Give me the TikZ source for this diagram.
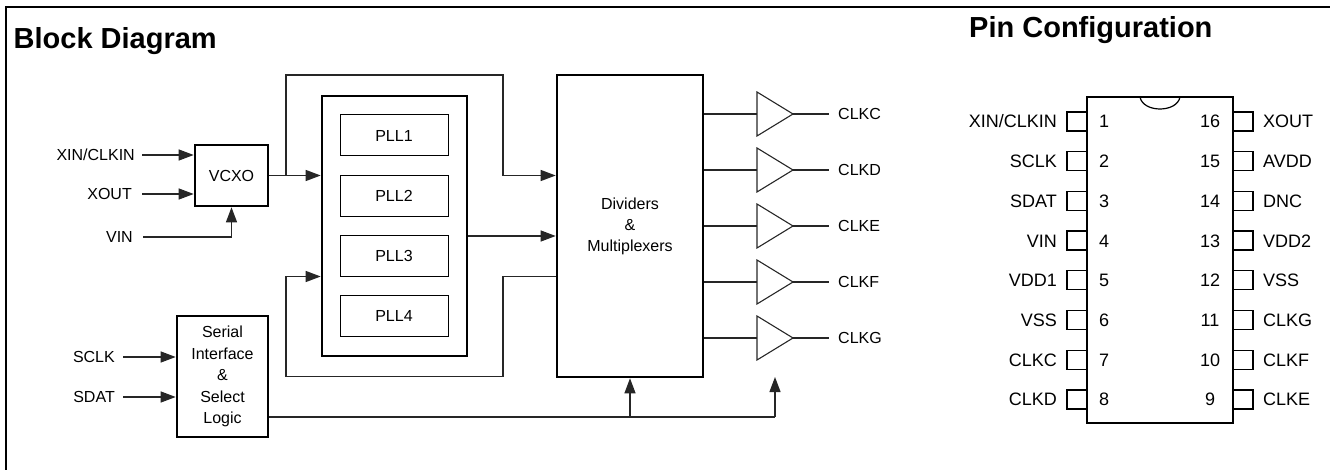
\documentclass[tikz,border=0pt]{standalone}
\usepackage{fontspec}
\setmainfont{Liberation Sans}
\usetikzlibrary{arrows.meta,calc}
\begin{document}
\begin{tikzpicture}[x=1pt,y=-1pt,
  thickbox/.style={draw, line width=2.6pt, inner sep=0pt, font=\fontsize{16}{21.4}\selectfont, align=center},
  thinbox/.style={draw, line width=1pt, inner sep=0pt, font=\fontsize{16}{19}\selectfont},
  lbl/.style={inner sep=0pt, font=\fontsize{16}{19}\selectfont, text height=11.5pt, text depth=0pt},
  plbl/.style={inner sep=0pt, font=\fontsize{18}{21}\selectfont, text height=12.9pt, text depth=0pt},
  wire/.style={draw=black!85, line width=1.2pt},
  arr/.style={-{Triangle[length=15pt,width=11pt]}},
  buf/.style={draw=black!85, line width=1.1pt, line join=miter},
  title/.style={anchor=base west, inner sep=0pt, font=\bfseries\fontsize{29}{32}\selectfont}]
\useasboundingbox (0,0) rectangle (1330,470);
\draw[line width=2.8pt] (6,472) -- (6,7) -- (1332,7);

\node[title] (t1) at (13.5,48.5) {Block Diagram};
\node[title] (t2) at (969,37.5) {Pin Configuration};

% blocks
\node[thickbox, minimum width=73pt, minimum height=61pt] (vcxo) at (231.5,175.5) {VCXO};
\node[thickbox, minimum width=145pt, minimum height=260pt] (pll) at (394.5,226) {};
\foreach \i/\y in {1/135.5,2/195.8,3/256.1,4/316.4}
  \node[thinbox, minimum width=108pt, minimum height=41pt] (pll\i) at (394,\y) {PLL\i};
\node[thickbox, minimum width=146pt, minimum height=302pt, font=\fontsize{16}{21}\selectfont] (div) at (630,226) {Dividers\\\&\\Multiplexers};
\node[thickbox, minimum width=91pt, minimum height=121pt] (ser) at (222.5,376.5) {Serial\\Interface\\\&\\Select\\Logic};

% inputs
\node[lbl, anchor=east] (xin) at (135,155) {XIN/CLKIN};
\node[lbl, anchor=east] (xout) at (132,194) {XOUT};
\node[lbl, anchor=east] (vin) at (133,237) {VIN};
\node[lbl, anchor=east] (sclk) at (115,357) {SCLK};
\node[lbl, anchor=east] (sdat) at (115,397) {SDAT};

\draw[wire, arr] ([xshift=7pt]xin.east) -- (xin -| vcxo.west);
\draw[wire, arr] ([xshift=10pt]xout.east) -- (xout -| vcxo.west);
\draw[wire, arr] ([xshift=10pt]vin.east) -| (vcxo.south);
\draw[wire, arr] ([xshift=8pt]sclk.east) -- (sclk -| ser.west);
\draw[wire, arr] ([xshift=8pt]sdat.east) -- (sdat -| ser.west);

% VCXO to PLL and dividers
\coordinate (br) at (286,175.5);
\coordinate (top1) at (503,75);
\draw[wire, arr] (vcxo.east) -- (vcxo.east -| pll.west);
\draw[wire, arr] (br) |- (top1) |- (vcxo.east -| div.west);

% PLL to dividers
\coordinate (pout) at ($(pll.east)+(0,10)$);
\draw[wire, arr] (pout) -- (pout -| div.west);

% feedback
\coordinate (fb) at ($(div.west)+(0,50.5)$);
\coordinate (fbA) at (503,376.5);
\coordinate (fbB) at (286,376.5);
\draw[wire, arr] (fb) -| (fbA) -- (fbB) |- (fb -| pll.west);

% serial bus
\coordinate (bus) at (775,417);
\coordinate (busend) at (775,377);
\draw[wire] (ser.east |- bus) -- (bus);
\draw[wire, arr] (bus) -- (busend);
\draw[wire, arr] (div.south |- bus) -- (div.south);

% buffers
\foreach \n/\y in {C/114,D/170,E/226,F/282,G/338}{
  \coordinate (bin\n) at (757,\y);
  \coordinate (bout\n) at (793,\y);
  \draw[buf] (757,\y-22) -- (bout\n) -- (757,\y+22) -- cycle;
  \node[lbl, anchor=west] (clk\n) at (838,\y) {CLK\n};
  \draw[wire] (div.east |- bin\n) -- (bin\n);
  \draw[wire] (bout\n) -- ([xshift=-9pt]clk\n.west);
}

% pin configuration
\node[draw, line width=1.5pt, minimum width=146pt, minimum height=326pt, inner sep=0pt] (ic) at (1160,260) {};
\draw[line width=1.2pt] (1140,97) .. controls (1143,113) and (1177,113) .. (1180,97);
\foreach \i/\ln/\rn/\rl in {1/XIN\slash CLKIN/16/XOUT,2/SCLK/15/AVDD,3/SDAT/14/DNC,4/VIN/13/VDD2,5/VDD1/12/VSS,6/VSS/11/CLKG,7/CLKC/10/CLKF,8/CLKD/9/CLKE}{
  \pgfmathsetmacro{\yy}{121.5+39.7*(\i-1)}
  \draw[line width=1.2pt] (1087,\yy-9.5) -- (1067,\yy-9.5) -- (1067,\yy+9.5) -- (1087,\yy+9.5);
  \draw[line width=1.2pt] (1233,\yy-9.5) -- (1253,\yy-9.5) -- (1253,\yy+9.5) -- (1233,\yy+9.5);
  \node[plbl, anchor=east] (pl\i) at (1057,\yy) {\ln};
  \node[plbl] (pn\i) at (1104,\yy) {\i};
  \node[plbl] (pn\rn) at (1210,\yy) {\rn};
  \node[plbl, anchor=west] (pr\i) at (1263,\yy) {\rl};
}
\end{tikzpicture}
\end{document}
